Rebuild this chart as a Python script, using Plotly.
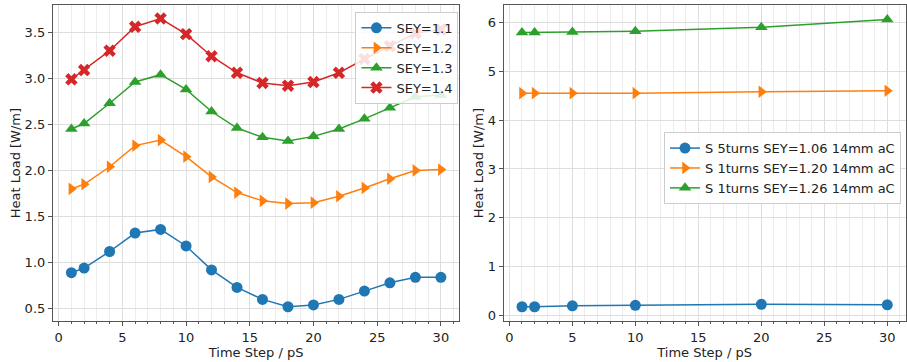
import plotly.graph_objects as go

# Left panel data
time_left = [1, 2, 4, 6, 8, 10, 12, 14, 16, 18, 20, 22, 24, 26, 28, 30]
sey_11 = [0.89, 0.94, 1.12, 1.32, 1.36, 1.18, 0.92, 0.73, 0.60, 0.52, 0.54, 0.60, 0.69, 0.78, 0.84, 0.84]
sey_12 = [1.80, 1.85, 2.04, 2.27, 2.33, 2.15, 1.93, 1.76, 1.67, 1.64, 1.65, 1.72, 1.81, 1.91, 2.00, 2.01]
sey_13 = [2.45, 2.51, 2.73, 2.96, 3.04, 2.88, 2.64, 2.46, 2.36, 2.32, 2.37, 2.45, 2.56, 2.68, 2.80, 2.82]
sey_14 = [2.99, 3.09, 3.30, 3.56, 3.65, 3.48, 3.24, 3.06, 2.95, 2.92, 2.96, 3.06, 3.21, 3.35, 3.49, 3.53]
left_names = ["SEY=1.1", "SEY=1.2", "SEY=1.3", "SEY=1.4"]

# Right panel data
time_right = [1, 2, 5, 10, 20, 30]
s5_106 = [0.18, 0.18, 0.20, 0.21, 0.23, 0.22]
s1_120 = [4.55, 4.55, 4.55, 4.55, 4.58, 4.60]
s1_126 = [5.79, 5.79, 5.80, 5.82, 5.90, 6.06]
right_names = ["S 5turns SEY=1.06 14mm aC", "S 1turns SEY=1.20 14mm aC", "S 1turns SEY=1.26 14mm aC"]

colors = ["#1f77b4", "#ff7f0e", "#2ca02c", "#d62728"]
symbols = ["circle", "triangle-right", "triangle-up", "x"]
FONT = "DejaVu Sans"
FS = 13

fig = go.Figure()
for i, ys in enumerate([sey_11, sey_12, sey_13, sey_14]):
    fig.add_trace(go.Scatter(
        x=time_left, y=ys, mode="lines+markers", name=left_names[i],
        line=dict(color=colors[i], width=1.5),
        marker=dict(symbol=symbols[i], size=11, color=colors[i], line=dict(width=0)),
        xaxis="x", yaxis="y", legend="legend"))

for i, ys in enumerate([s5_106, s1_120, s1_126]):
    fig.add_trace(go.Scatter(
        x=time_right, y=ys, mode="lines+markers", name=right_names[i],
        line=dict(color=colors[i], width=1.5),
        marker=dict(symbol=symbols[i], size=11, color=colors[i], line=dict(width=0)),
        xaxis="x2", yaxis="y2", legend="legend2"))

axis_common = dict(
    showline=True, mirror=True, linecolor="#555555", linewidth=1,
    gridcolor="#dedede", gridwidth=1, zeroline=False,
    ticks="outside", ticklen=4, tickcolor="#555555",
    tickfont=dict(family=FONT, size=FS, color="#222222"),
)
xminor = dict(dtick=1, showgrid=True, gridcolor="#ececec", ticks="outside", ticklen=2, tickcolor="#555555")
title_font = dict(family=FONT, size=FS, color="#222222")

fig.update_layout(
    width=907, height=362,
    margin=dict(l=0, r=0, t=0, b=0),
    paper_bgcolor="white", plot_bgcolor="white",
    font=dict(family=FONT, size=FS, color="#222222"),
    xaxis=dict(domain=[0.0584, 0.507], range=[-0.45, 31.45], dtick=5, anchor="y",
               minor=xminor, title=dict(text="Time Step / pS", standoff=2, font=title_font), **axis_common),
    yaxis=dict(domain=[0.108, 0.986], range=[0.364, 3.796], dtick=0.5, tickformat=".1f", anchor="x",
               title=dict(text="Heat Load [W/m]", standoff=1, font=title_font), **axis_common),
    xaxis2=dict(domain=[0.556, 0.9995], range=[-0.45, 31.45], dtick=5, anchor="y2",
                minor=xminor, title=dict(text="Time Step / pS", standoff=2, font=title_font), **axis_common),
    yaxis2=dict(domain=[0.108, 0.986], range=[-0.114, 6.354], dtick=1, anchor="x2",
                title=dict(text="Heat Load [W/m]", standoff=1, font=title_font), **axis_common),
    legend=dict(x=0.506, y=0.967, xanchor="right", yanchor="top",
                bgcolor="rgba(255,255,255,0.85)", bordercolor="#cccccc", borderwidth=1,
                font=dict(family=FONT, size=FS, color="#222222"), itemwidth=30, tracegroupgap=0),
    legend2=dict(x=0.9945, y=0.633, xanchor="right", yanchor="top",
                 bgcolor="rgba(255,255,255,0.85)", bordercolor="#cccccc", borderwidth=1,
                 font=dict(family=FONT, size=FS, color="#222222"), itemwidth=30, tracegroupgap=0),
)

fig.write_html("out.html")
